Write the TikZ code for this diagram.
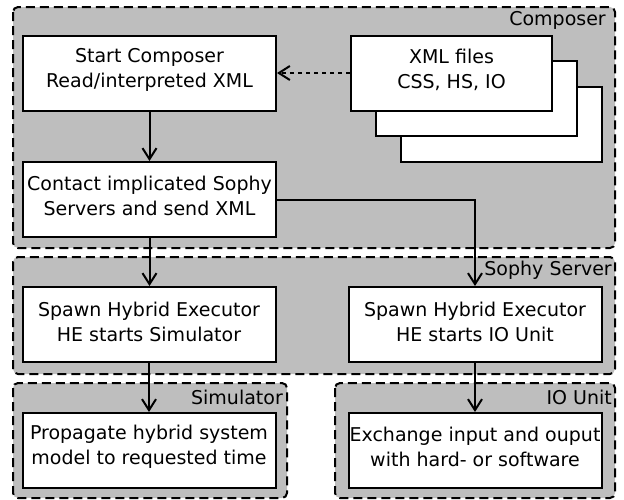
\documentclass[tikz,border=0pt]{standalone}
\usepackage{fontspec}
\setmainfont{DejaVu Sans}
\usepackage{tikz}
\usetikzlibrary{positioning}
\usetikzlibrary{arrows.meta, fit, shapes}

\definecolor{groupgray}{RGB}{190,190,190}

\begin{document}
\begin{tikzpicture}[x=1pt,y=-1pt]

\tikzset{group box/.style={
		draw, fill=groupgray,
		line width=2pt,
		dash pattern=on 9pt off 5pt,
		rounded corners=5pt
	},
	group label/.style={
		anchor=east, inner sep=0pt,
		font=\fontsize{19}{25}\selectfont
	},
	step box/.style={
		draw, fill=white,
		line width=2pt,
		minimum width=#1,
		minimum height=75pt,
		inner sep=0pt
	},
	step box/.default=253pt,
	step text/.style={
		align=center, inner sep=0pt,
		font=\fontsize{19}{25}\selectfont
	},
	flow/.style={
		line width=2pt,
		-{Straight Barb[length=11pt,width=14pt]}
	}
}

\useasboundingbox (0,0) rectangle (624,499);

% groups
\draw[group box] (13,7) rectangle (615,248);
\draw[group box] (13,257) rectangle (615,374);
\draw[group box] (13,383) rectangle (287,498);
\draw[group box] (335,383) rectangle (615,498);

\node[group label] (composer-lbl) at (606,20) {Composer};
\node[group label] (sophy-lbl) at (612,270) {Sophy Server};
\node[group label] (sim-lbl) at (283,397) {Simulator};
\node[group label] (io-lbl) at (612,397) {IO Unit};

% xml file stack
\node[step box=201pt] (xml3) at (501.5,124) {};
\node[step box=201pt] (xml2) at (476.5,98.5) {};
\node[step box=201pt] (xml1) at (451.5,73) {};
\node[step text] (xml1-txt) at ([yshift=3pt]xml1.center) {XML files\\CSS, HS, IO};

% steps
\node[step box] (start) at (149.5,73) {};
\node[step text] (start-txt) at ([yshift=3pt]start.center) {Start Composer\\Read/interpreted XML};

\node[step box] (contact) at (149.5,199.5) {};
\node[step text] (contact-txt) at ([yshift=4pt]contact.center) {Contact implicated Sophy\\Servers and send XML};

\node[step box] (spawnsim) at (149,324.5) {};
\node[step text] (spawnsim-txt) at ([yshift=3pt]spawnsim.center) {Spawn Hybrid Executor\\HE starts Simulator};

\node[step box] (spawnio) at (475,324.5) {};
\node[step text] (spawnio-txt) at ([yshift=3pt]spawnio.center) {Spawn Hybrid Executor\\HE starts IO Unit};

\node[step box] (propagate) at (149,450.5) {};
\node[step text] (propagate-txt) at ([yshift=4pt]propagate.center) {Propagate hybrid system\\model to requested time};

\node[step box] (exchange) at (475,450.5) {};
\node[step text] (exchange-txt) at ([yshift=4pt]exchange.center) {Exchange input and ouput\\with hard- or software};

% arrows
\draw[flow, dash pattern=on 4pt off 4pt] (xml1) -- (start);
\draw[flow] (start) -- (contact);
\draw[flow] (contact.south) -- (spawnsim.north -| contact.south);
\draw[flow] (contact.east) -| (spawnio.north);
\draw[flow] (spawnsim) -- (propagate);
\draw[flow] (spawnio) -- (exchange);

\end{tikzpicture}
\end{document}
